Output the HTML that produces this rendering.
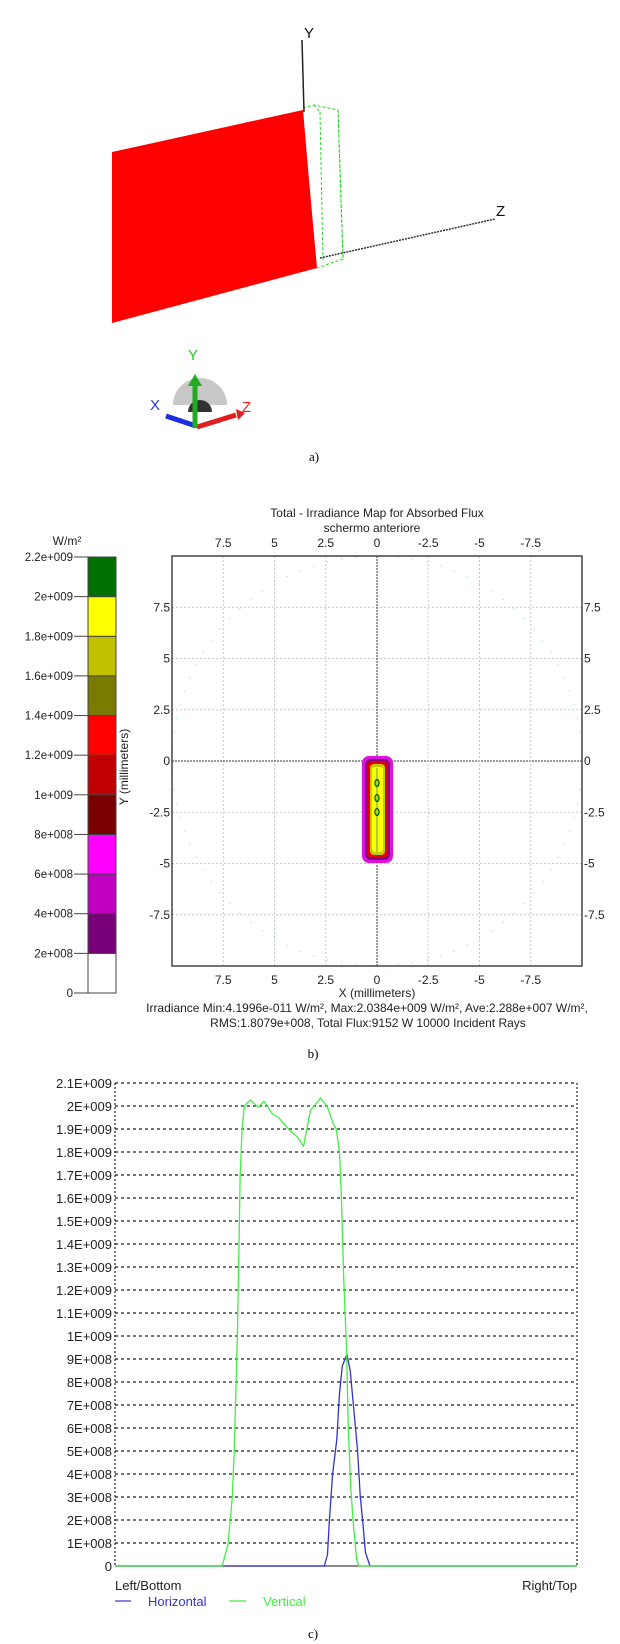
<!DOCTYPE html>
<html><head><meta charset="utf-8"><style>
html,body{margin:0;padding:0;background:#fff;}
svg{display:block;font-family:"Liberation Sans",sans-serif;}
</style></head><body>
<svg id="page" width="620" height="1644" viewBox="0 0 620 1644" xmlns="http://www.w3.org/2000/svg">
<g>
  <polygon points="112,152 303,110 309,180 317,268 112,323" fill="#ff0000"/>
  <g fill="none" stroke="#22dd22" stroke-width="1" stroke-dasharray="3,2">
    <polyline points="303,108 314,105 338,110 343,259 317,268"/>
    <line x1="320" y1="112" x2="323" y2="262"/>
    <line x1="338" y1="110" x2="343" y2="259"/>
    <line x1="314" y1="105" x2="320" y2="112"/>
  </g>
  <line x1="302" y1="40" x2="304" y2="112" stroke="#222" stroke-width="1.5"/>
  <text x="304" y="38" font-size="15" fill="#111">Y</text>
  <line x1="320" y1="258" x2="495" y2="219" stroke="#333" stroke-width="1.5" stroke-dasharray="2,1"/>
  <text x="496" y="216" font-size="15" fill="#111">Z</text>
  <g>
    <path d="M173,405 A27,27 0 0 1 227,405 Z" fill="#c8c8c8"/>
    <path d="M188,412 A12,12 0 0 1 212,412 Z" fill="#333"/>
    <line x1="196" y1="426" x2="166" y2="416" stroke="#1a2ee0" stroke-width="5"/>
    <line x1="197" y1="427" x2="236" y2="415" stroke="#e02020" stroke-width="5"/>
    <polygon points="236,409 245,413 238,420" fill="#e02020"/>
    <line x1="195" y1="428" x2="195" y2="384" stroke="#22aa22" stroke-width="5"/>
    <polygon points="188,386 195,374 202,386" fill="#22aa22"/>
    <text x="188" y="360" font-size="15" fill="#22cc22">Y</text>
    <text x="150" y="410" font-size="15" fill="#2233ee">X</text>
    <text x="242" y="412" font-size="15" fill="#ee2222">Z</text>
  </g>
  <text x="314" y="461" font-family="Liberation Serif,serif" font-size="13" text-anchor="middle">a)</text>
</g>

<g id="panelB">
  <text x="377" y="517" font-size="12" text-anchor="middle" fill="#222">Total - Irradiance Map for Absorbed Flux</text>
  <text x="372" y="532" font-size="12" text-anchor="middle" fill="#222">schermo anteriore</text>
  <text x="67" y="545" font-size="12" text-anchor="middle" fill="#222">W/m²</text>
  <g id="cbar"></g>
  <g id="map"></g>
  <text transform="translate(128,767) rotate(-90)" font-size="12" text-anchor="middle" fill="#222">Y (millimeters)</text>
  <text x="377" y="997" font-size="12" text-anchor="middle" fill="#222">X (millimeters)</text>
  <text x="367" y="1012" font-size="12" text-anchor="middle" fill="#222">Irradiance Min:4.1996e-011 W/m², Max:2.0384e+009 W/m², Ave:2.288e+007 W/m²,</text>
  <text x="368" y="1027" font-size="12" text-anchor="middle" fill="#222">RMS:1.8079e+008, Total Flux:9152 W 10000 Incident Rays</text>
  <text x="313" y="1058" font-family="Liberation Serif,serif" font-size="13" text-anchor="middle">b)</text>
</g>

<g id="panelC">
  <g id="prof"></g>
  <text x="115" y="1590" font-size="13" fill="#222">Left/Bottom</text>
  <text x="577" y="1590" font-size="13" text-anchor="end" fill="#222">Right/Top</text>
  <g>
    <line x1="115" y1="1601" x2="131" y2="1601" stroke="#3333cc" stroke-width="1.2"/>
    <text x="148" y="1606" font-size="13" fill="#3333cc">Horizontal</text>
  </g>
  <g>
    <line x1="229" y1="1601" x2="246" y2="1601" stroke="#44ee44" stroke-width="1.2"/>
    <text x="263" y="1606" font-size="13" fill="#44ee44">Vertical</text>
  </g>
  <text x="313" y="1638" font-family="Liberation Serif,serif" font-size="13" text-anchor="middle">c)</text>
</g>
</svg>
<script>
var cbarTicks = [0, 2e8, 4e8, 6e8, 8e8, 1e9, 1.2e9, 1.4e9, 1.6e9, 1.8e9, 2e9, 2.2e9];
var cbarLabels = ["0","2e+008","4e+008","6e+008","8e+008","1e+009","1.2e+009","1.4e+009","1.6e+009","1.8e+009","2e+009","2.2e+009"];
var cbarColors = ["#ffffff","#780078","#c000c0","#ff00ff","#780000","#c00000","#ff0000","#7a7a00","#c0c000","#ffff00","#007000"];
var mapTicks = [7.5, 5, 2.5, 0, -2.5, -5, -7.5];
var mapTickLabels = ["7.5","5","2.5","0","-2.5","-5","-7.5"];
var profYTicks = [0,1e8,2e8,3e8,4e8,5e8,6e8,7e8,8e8,9e8,1e9,1.1e9,1.2e9,1.3e9,1.4e9,1.5e9,1.6e9,1.7e9,1.8e9,1.9e9,2e9,2.1e9];
var profYLabels = ["0","1E+008","2E+008","3E+008","4E+008","5E+008","6E+008","7E+008","8E+008","9E+008","1E+009","1.1E+009","1.2E+009","1.3E+009","1.4E+009","1.5E+009","1.6E+009","1.7E+009","1.8E+009","1.9E+009","2E+009","2.1E+009"];
var vertPos = [0,23.2,24.5,25.4,25.8,26.5,27.1,27.5,28.0,29.3,31.0,32.3,34.1,35.4,38.0,39.5,40.8,42.3,44.5,46.0,47.3,47.9,48.6,49.0,49.5,50.1,50.5,51.0,51.6,52.3,52.8,100];
var vertVal = [0,0,1e8,3e8,5e8,10e8,17e8,19e8,20e8,20.26e8,19.95e8,20.2e8,19.65e8,19.5e8,18.9e8,18.65e8,18.25e8,19.8e8,20.35e8,19.95e8,19.2e8,19.0e8,18.0e8,16.0e8,12.5e8,9.5e8,6.0e8,3.5e8,1.8e8,0.3e8,0,0];
var horizPos = [0,45.3,46.0,46.4,47.1,48.0,48.6,49.2,50.2,50.9,51.6,52.5,53.1,53.6,54.2,55.2,100];
var horizVal = [0,0,0.5e8,2e8,4e8,5.5e8,7.5e8,8.7e8,9.2e8,8.5e8,7.0e8,5e8,3e8,2e8,0.6e8,0,0];

var NS = "http://www.w3.org/2000/svg";
function mk(tag, attrs, parent){ var e=document.createElementNS(NS,tag); for(var k in attrs){e.setAttribute(k,attrs[k]);} parent.appendChild(e); return e; }

(function(){
  var g=document.getElementById('cbar');
  var y0=993, y1=557, x0=88, x1=116;
  function cy(v){ return y0-(v-0)/(2.2e9)*(y0-y1); }
  for(var i=0;i<cbarColors.length;i++){
    var r=mk('rect',{x:x0,y:cy(cbarTicks[i+1]),width:x1-x0,height:cy(cbarTicks[i])-cy(cbarTicks[i+1]),fill:cbarColors[i],stroke:'#444','stroke-width':1},g);
    
    
  }
  for(var j=0;j<cbarTicks.length;j++){
    var y=cy(cbarTicks[j]);
    var l=mk('line',{x1:74,y1:y,x2:x0,y2:y,stroke:'#444','stroke-width':1},g);
    
    
    var t=mk('text',{x:73,y:y+4,'font-size':11.5,'text-anchor':'end',fill:'#222'},g);
    t.textContent=cbarLabels[j];
    
    
  }
})();

(function(){
  var g=document.getElementById('map');
  var L=172,R=582,T=556,B=966, cx=377, cyy=761, s=20.5;
  function X(v){ return cx - v*s; }
  function Y(v){ return cyy - v*s; }
  var bg=mk('rect',{x:L,y:T,width:R-L,height:B-T,fill:'#fff',stroke:'none'},g);
  
  
  for(var a=0;a<360;a+=4){
    var d=mk('circle',{cx:cx+205*Math.cos(a*Math.PI/180),cy:cyy+205*Math.sin(a*Math.PI/180),r:0.8,fill:'#b8ecc8'},g);
    
    
  }
  for(var i=0;i<mapTicks.length;i++){
    var v=mapTicks[i];
    var strong=(v===0);
    var gl=mk('line',{x1:X(v),y1:T,x2:X(v),y2:B,stroke:strong?'#333':'#c8c8c8','stroke-width':1,'stroke-dasharray':strong?'2,1':'2,2'},g);
    
    
    var gh=mk('line',{x1:L,y1:Y(v),x2:R,y2:Y(v),stroke:strong?'#333':'#c8c8c8','stroke-width':1,'stroke-dasharray':strong?'2,1':'2,2'},g);
    
    
    var tt=mk('text',{x:X(v),y:547,'font-size':12,'text-anchor':'middle',fill:'#222'},g); tt.textContent=mapTickLabels[i];
     
    var tb=mk('text',{x:X(v),y:984,'font-size':12,'text-anchor':'middle',fill:'#222'},g); tb.textContent=mapTickLabels[i];
     
    var tl=mk('text',{x:170,y:Y(v)+4,'font-size':12,'text-anchor':'end',fill:'#222'},g); tl.textContent=mapTickLabels[i];
     
    var tr=mk('text',{x:584,y:Y(v)+4,'font-size':12,'text-anchor':'start',fill:'#222'},g); tr.textContent=mapTickLabels[i];
     
  }
  var fr=mk('rect',{x:L,y:T,width:R-L,height:B-T,fill:'none',stroke:'#444','stroke-width':1.5},g);
   
  var spot=[[362,756,31,107,7,'#e010e0'],[365,759,25,101,6,'#800080'],[367,761,21,97,5,'#e00000'],[370,764,15,91,4,'#c8c800'],[372,767,11,85,3,'#ffff00']];
  for(var k=0;k<spot.length;k++){
    var sp=spot[k];
    var r=mk('rect',{x:sp[0],y:sp[1],width:sp[2],height:sp[3],rx:sp[4],fill:sp[5]},g);
    
    
  }
  var cl=mk('line',{x1:377,y1:768,x2:377,y2:852,stroke:'#5aa05a','stroke-width':1},g);
   
  var dots=[783,798,812];
  for(var m=0;m<dots.length;m++){
    var e=mk('ellipse',{cx:377,cy:dots[m],rx:2,ry:3.5,fill:'none',stroke:'#006000','stroke-width':1.3},g);
     
  }
})();

(function(){
  var g=document.getElementById('prof');
  var L=115,R=577,B=1566,T=1083;
  function X(p){ return L+p/100*(R-L); }
  function Y(v){ return B-v/2.1e9*(B-T); }
  for(var i=0;i<profYTicks.length;i++){
    var y=Y(profYTicks[i]);
    if(i>0){
      var gl=mk('line',{x1:L,y1:y,x2:R,y2:y,stroke:'#222','stroke-width':1.2,'stroke-dasharray':'3,3'},g);
      
      
    }
    var t=mk('text',{x:112,y:y+5,'font-size':13,'text-anchor':'end',fill:'#222'},g);
    t.textContent=profYLabels[i];
    
    
  }
  var ax=mk('line',{x1:L,y1:T,x2:L,y2:B,stroke:'#222','stroke-width':1.2,'stroke-dasharray':'2,2'},g);
   
  var ar=mk('line',{x1:R,y1:T,x2:R,y2:B,stroke:'#222','stroke-width':1.2,'stroke-dasharray':'2,2'},g);
   
  var base=mk('line',{x1:L,y1:B,x2:R,y2:B,stroke:'#444','stroke-width':1.2},g);
   
  function pts(P,V){ var s=[]; for(var i=0;i<P.length;i++){ s.push(X(P[i]).toFixed(1)+','+Y(V[i]).toFixed(1)); } return s.join(' '); }
  var hb=mk('polyline',{points:pts(horizPos,horizVal),fill:'none',stroke:'#3333cc','stroke-width':1.3,'stroke-linejoin':'round'},g);
   
  var vg=mk('polyline',{points:pts(vertPos,vertVal),fill:'none',stroke:'#44ee44','stroke-width':1.3,'stroke-linejoin':'round'},g);
   
})();
</script>
</body></html>
